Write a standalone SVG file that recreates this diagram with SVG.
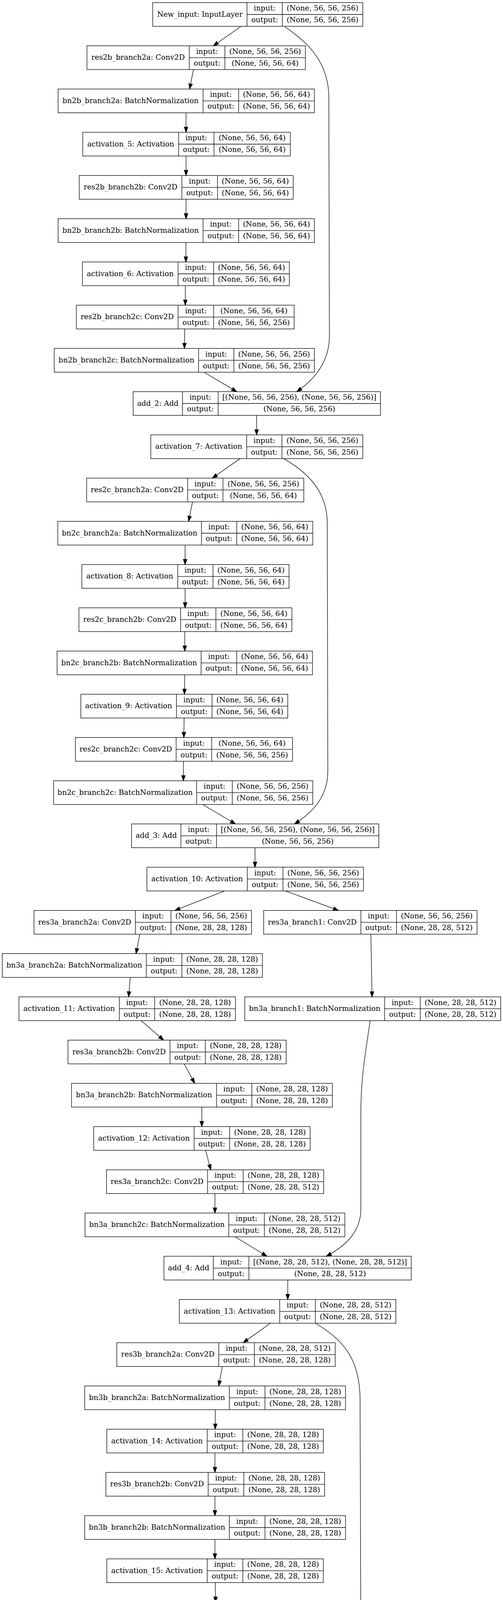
<svg xmlns="http://www.w3.org/2000/svg" width="1288" height="6713" viewBox="0 0 1288 6713">
<defs>
<marker id="ah" markerUnits="userSpaceOnUse" markerWidth="16" markerHeight="12" viewBox="-1 -1 16 12" refX="13.3" refY="4.67" orient="auto">
<path d="M0,0L13.3,4.67L0,9.33z" fill="#000" stroke="#000" stroke-width="1.33"/>
</marker>
</defs>
<style>
.n rect{fill:none;stroke:#000;stroke-width:1.33}
.n path{fill:none;stroke:#000;stroke-width:1.33}
.n text{font-family:"DejaVu Serif","Liberation Serif",serif;font-size:18.67px;text-anchor:middle;fill:#000}
#edges path{fill:none;stroke:#000;stroke-width:1.33;marker-end:url(#ah)}
</style>
<rect x="0" y="0" width="1288" height="6713" fill="#fff"/>
<g id="edges">
<path d="M616.1,68.2L546.2,117.3"/>
<path d="M495.3,178.2L485.5,227.9"/>
<path d="M476.4,288.7V338.6"/>
<path d="M476.4,399.4V449.3"/>
<path d="M476.4,510.1V559.9"/>
<path d="M476,620.7V670.6"/>
<path d="M474.5,731.4V781.3"/>
<path d="M473,842.1L472.3,892"/>
<path d="M522.4,952.8L606.2,1002.6"/>
<path d="M729.4,68.2C790,110 842,160 842,250L843.5,860C843.5,930 800,975 759.8,1002.6"/>
<path d="M657.1,1063.4V1113.3"/>
<path d="M614.4,1174.1L543.8,1224"/>
<path d="M726.1,1174.1C790,1210 838,1260 838,1340L839.5,1975C839.5,2040 800,2080 754.1,2109.3"/>
<path d="M492.9,1284.8L483,1334.6"/>
<path d="M474,1395.4V1445.3"/>
<path d="M474,1506.1V1556"/>
<path d="M473.1,1616.8V1666.7"/>
<path d="M473,1727.5L472.3,1777.3"/>
<path d="M471.5,1838.1L470.7,1888"/>
<path d="M469.7,1948.8V1998.7"/>
<path d="M519.1,2059.5L602.9,2109.3"/>
<path d="M653,2170.1V2220"/>
<path d="M575,2280.8L447.7,2330.7"/>
<path d="M731.1,2280.8L866.6,2330.7"/>
<path d="M358.1,2391.5L348.3,2441.3"/>
<path d="M949.6,2391.5L952.8,2552"/>
<path d="M333.5,2502.1L329.4,2552"/>
<path d="M361.4,2612.8L418.9,2662.7"/>
<path d="M947.9,2612.8C935,2700 924,2760 924,2850L924,3095C924,3160 875,3195 835.4,3216"/>
<path d="M471.5,2723.5L498.6,2773.4"/>
<path d="M516.7,2834.2V2884"/>
<path d="M526.5,2944.8L539.7,2994.7"/>
<path d="M550.4,3055.5V3105.4"/>
<path d="M602.1,3166.2L683.4,3216"/>
<path d="M736.8,3276.8V3326.7"/>
<path d="M692.5,3387.5L622.6,3437.4"/>
<path d="M807.5,3387.5C870,3425 921,3470 922,3580L924,4190C924,4255 868,4298 835.4,4322.7"/>
<path d="M569.3,3498.2L560.2,3548"/>
<path d="M551.2,3608.8V3658.7"/>
<path d="M550.4,3719.5V3769.4"/>
<path d="M550.4,3830.2V3880.1"/>
<path d="M550.4,3940.9V3990.7"/>
<path d="M551.2,4051.5L552,4101.4"/>
<path d="M552,4162.2V4212.1"/>
<path d="M603.8,4272.9L685.9,4322.7"/>
<path d="M737.6,4383.5V4433.4"/>
<path d="M694.1,4494.2L624.3,4544.1"/>
<path d="M807.5,4494.2C870,4531.7 921,4576.7 922,4686.7L924,5296.7C924,5361.7 868,5404.7 835.4,5429.4"/>
<path d="M571.7,4604.9L561.9,4654.7"/>
<path d="M552,4715.5V4765.4"/>
<path d="M552,4826.2V4876.1"/>
<path d="M552,4936.9V4986.8"/>
<path d="M552.8,5047.6L553.6,5097.4"/>
<path d="M553.6,5158.2V5208.1"/>
<path d="M553.6,5268.9V5318.8"/>
<path d="M604.6,5379.6L686.7,5429.4"/>
<path d="M737.6,5490.2V5540.1"/>
<path d="M694.1,5600.9L624.3,5650.8"/>
<path d="M807.5,5600.9C870,5638.4 921,5683.4 923,5793.4L925,6403.4C925,6468.4 870,6511.4 837.9,6536.1"/>
<path d="M572.5,5711.6L561.9,5761.4"/>
<path d="M552,5822.2V5872.1"/>
<path d="M552,5932.9V5982.8"/>
<path d="M552,6043.6V6093.5"/>
<path d="M552,6154.3L552.8,6204.1"/>
<path d="M553.6,6264.9V6314.8"/>
<path d="M553.6,6375.6V6425.5"/>
<path d="M604.6,6486.3L688.4,6536.1"/>
<path d="M738.5,6596.9V6646.8"/>
</g>
<g id="n_New_input" class="n" transform="translate(0,6.6)"><rect x="391" y="0" width="538" height="60.8"/><path d="M632.5,0V60.8M722.9,0V60.8M632.5,30.4H929"/><text x="511.75" y="36">New_input: InputLayer</text><text x="677.7" y="20.6">input:</text><text x="677.7" y="50.6">output:</text><text x="825.95" y="20.6">(None, 56, 56, 256)</text><text x="825.95" y="50.6">(None, 56, 56, 256)</text></g>
<g id="n_res2b_branch2a" class="n" transform="translate(0,117.3)"><rect x="222.6" y="0" width="559.4" height="60.8"/><path d="M484.6,0V60.8M575.8,0V60.8M484.6,30.4H782"/><text x="353.6" y="36">res2b_branch2a: Conv2D</text><text x="530.2" y="20.6">input:</text><text x="530.2" y="50.6">output:</text><text x="678.9" y="20.6">(None, 56, 56, 256)</text><text x="678.9" y="50.6">(None, 56, 56, 64)</text></g>
<g id="n_bn2b_branch2a" class="n" transform="translate(0,227.9)"><rect x="148.7" y="0" width="656.3" height="60.8"/><path d="M520,0V60.8M611.1,0V60.8M520,30.4H805"/><text x="334.35" y="36">bn2b_branch2a: BatchNormalization</text><text x="565.55" y="20.6">input:</text><text x="565.55" y="50.6">output:</text><text x="708.05" y="20.6">(None, 56, 56, 64)</text><text x="708.05" y="50.6">(None, 56, 56, 64)</text></g>
<g id="n_activation_5" class="n" transform="translate(0,338.6)"><rect x="211.9" y="0" width="531.5" height="60.8"/><path d="M457.5,0V60.8M547.9,0V60.8M457.5,30.4H743.4"/><text x="334.7" y="36">activation_5: Activation</text><text x="502.7" y="20.6">input:</text><text x="502.7" y="50.6">output:</text><text x="645.65" y="20.6">(None, 56, 56, 64)</text><text x="645.65" y="50.6">(None, 56, 56, 64)</text></g>
<g id="n_res2b_branch2b" class="n" transform="translate(0,449.3)"><rect x="202.9" y="0" width="547.9" height="60.8"/><path d="M465.7,0V60.8M556.9,0V60.8M465.7,30.4H750.8"/><text x="334.3" y="36">res2b_branch2b: Conv2D</text><text x="511.3" y="20.6">input:</text><text x="511.3" y="50.6">output:</text><text x="653.85" y="20.6">(None, 56, 56, 64)</text><text x="653.85" y="50.6">(None, 56, 56, 64)</text></g>
<g id="n_bn2b_branch2b" class="n" transform="translate(0,559.9)"><rect x="148.7" y="0" width="656.3" height="60.8"/><path d="M520,0V60.8M611.1,0V60.8M520,30.4H805"/><text x="334.35" y="36">bn2b_branch2b: BatchNormalization</text><text x="565.55" y="20.6">input:</text><text x="565.55" y="50.6">output:</text><text x="708.05" y="20.6">(None, 56, 56, 64)</text><text x="708.05" y="50.6">(None, 56, 56, 64)</text></g>
<g id="n_activation_6" class="n" transform="translate(0,670.6)"><rect x="211.1" y="0" width="529.8" height="60.8"/><path d="M455.9,0V60.8M547.1,0V60.8M455.9,30.4H740.9"/><text x="333.5" y="36">activation_6: Activation</text><text x="501.5" y="20.6">input:</text><text x="501.5" y="50.6">output:</text><text x="644" y="20.6">(None, 56, 56, 64)</text><text x="644" y="50.6">(None, 56, 56, 64)</text></g>
<g id="n_res2b_branch2c" class="n" transform="translate(0,781.3)"><rect x="195.5" y="0" width="557.8" height="60.8"/><path d="M455.9,0V60.8M547.1,0V60.8M455.9,30.4H753.3"/><text x="325.7" y="36">res2b_branch2c: Conv2D</text><text x="501.5" y="20.6">input:</text><text x="501.5" y="50.6">output:</text><text x="650.2" y="20.6">(None, 56, 56, 64)</text><text x="650.2" y="50.6">(None, 56, 56, 256)</text></g>
<g id="n_bn2b_branch2c" class="n" transform="translate(0,892)"><rect x="138.8" y="0" width="666.2" height="60.8"/><path d="M508.5,0V60.8M598.8,0V60.8M508.5,30.4H805"/><text x="323.65" y="36">bn2b_branch2c: BatchNormalization</text><text x="553.65" y="20.6">input:</text><text x="553.65" y="50.6">output:</text><text x="701.9" y="20.6">(None, 56, 56, 256)</text><text x="701.9" y="50.6">(None, 56, 56, 256)</text></g>
<g id="n_add_2" class="n" transform="translate(0,1002.6)"><rect x="340.9" y="0" width="633.3" height="60.8"/><path d="M467.4,0V60.8M558.6,0V60.8M467.4,30.4H974.2"/><text x="404.15" y="36">add_2: Add</text><text x="513" y="20.6">input:</text><text x="513" y="50.6">output:</text><text x="766.4" y="20.6">[(None, 56, 56, 256), (None, 56, 56, 256)]</text><text x="766.4" y="50.6">(None, 56, 56, 256)</text></g>
<g id="n_activation_7" class="n" transform="translate(0,1113.3)"><rect x="386.1" y="0" width="542.9" height="60.8"/><path d="M631.7,0V60.8M722,0V60.8M631.7,30.4H929"/><text x="508.9" y="36">activation_7: Activation</text><text x="676.85" y="20.6">input:</text><text x="676.85" y="50.6">output:</text><text x="825.5" y="20.6">(None, 56, 56, 256)</text><text x="825.5" y="50.6">(None, 56, 56, 256)</text></g>
<g id="n_res2c_branch2a" class="n" transform="translate(0,1224)"><rect x="221.8" y="0" width="556.1" height="60.8"/><path d="M480.5,0V60.8M570.9,0V60.8M480.5,30.4H777.9"/><text x="351.15" y="36">res2c_branch2a: Conv2D</text><text x="525.7" y="20.6">input:</text><text x="525.7" y="50.6">output:</text><text x="674.4" y="20.6">(None, 56, 56, 256)</text><text x="674.4" y="50.6">(None, 56, 56, 64)</text></g>
<g id="n_bn2c_branch2a" class="n" transform="translate(0,1334.6)"><rect x="147.9" y="0" width="653" height="60.8"/><path d="M515.9,0V60.8M606.2,0V60.8M515.9,30.4H800.9"/><text x="331.9" y="36">bn2c_branch2a: BatchNormalization</text><text x="561.05" y="20.6">input:</text><text x="561.05" y="50.6">output:</text><text x="703.55" y="20.6">(None, 56, 56, 64)</text><text x="703.55" y="50.6">(None, 56, 56, 64)</text></g>
<g id="n_activation_8" class="n" transform="translate(0,1445.3)"><rect x="209.5" y="0" width="530.6" height="60.8"/><path d="M455.1,0V60.8M545.4,0V60.8M455.1,30.4H740.1"/><text x="332.3" y="36">activation_8: Activation</text><text x="500.25" y="20.6">input:</text><text x="500.25" y="50.6">output:</text><text x="642.75" y="20.6">(None, 56, 56, 64)</text><text x="642.75" y="50.6">(None, 56, 56, 64)</text></g>
<g id="n_res2c_branch2b" class="n" transform="translate(0,1556)"><rect x="202.1" y="0" width="545.4" height="60.8"/><path d="M462.5,0V60.8M552.8,0V60.8M462.5,30.4H747.5"/><text x="332.3" y="36">res2c_branch2b: Conv2D</text><text x="507.65" y="20.6">input:</text><text x="507.65" y="50.6">output:</text><text x="650.15" y="20.6">(None, 56, 56, 64)</text><text x="650.15" y="50.6">(None, 56, 56, 64)</text></g>
<g id="n_bn2c_branch2b" class="n" transform="translate(0,1666.7)"><rect x="146.2" y="0" width="653.9" height="60.8"/><path d="M515,0V60.8M606.2,0V60.8M515,30.4H800.1"/><text x="330.6" y="36">bn2c_branch2b: BatchNormalization</text><text x="560.6" y="20.6">input:</text><text x="560.6" y="50.6">output:</text><text x="703.15" y="20.6">(None, 56, 56, 64)</text><text x="703.15" y="50.6">(None, 56, 56, 64)</text></g>
<g id="n_activation_9" class="n" transform="translate(0,1777.3)"><rect x="207" y="0" width="529.8" height="60.8"/><path d="M451.8,0V60.8M543,0V60.8M451.8,30.4H736.8"/><text x="329.4" y="36">activation_9: Activation</text><text x="497.4" y="20.6">input:</text><text x="497.4" y="50.6">output:</text><text x="639.9" y="20.6">(None, 56, 56, 64)</text><text x="639.9" y="50.6">(None, 56, 56, 64)</text></g>
<g id="n_res2c_branch2c" class="n" transform="translate(0,1888)"><rect x="193" y="0" width="556.1" height="60.8"/><path d="M451,0V60.8M542.1,0V60.8M451,30.4H749.1"/><text x="322" y="36">res2c_branch2c: Conv2D</text><text x="496.55" y="20.6">input:</text><text x="496.55" y="50.6">output:</text><text x="645.6" y="20.6">(None, 56, 56, 64)</text><text x="645.6" y="50.6">(None, 56, 56, 256)</text></g>
<g id="n_bn2c_branch2c" class="n" transform="translate(0,1998.7)"><rect x="137.2" y="0" width="663.7" height="60.8"/><path d="M503.5,0V60.8M594.7,0V60.8M503.5,30.4H800.9"/><text x="320.35" y="36">bn2c_branch2c: BatchNormalization</text><text x="549.1" y="20.6">input:</text><text x="549.1" y="50.6">output:</text><text x="697.8" y="20.6">(None, 56, 56, 256)</text><text x="697.8" y="50.6">(None, 56, 56, 256)</text></g>
<g id="n_add_3" class="n" transform="translate(0,2109.3)"><rect x="336.8" y="0" width="633.3" height="60.8"/><path d="M463.3,0V60.8M554.5,0V60.8M463.3,30.4H970.1"/><text x="400.05" y="36">add_3: Add</text><text x="508.9" y="20.6">input:</text><text x="508.9" y="50.6">output:</text><text x="762.3" y="20.6">[(None, 56, 56, 256), (None, 56, 56, 256)]</text><text x="762.3" y="50.6">(None, 56, 56, 256)</text></g>
<g id="n_activation_10" class="n" transform="translate(0,2220)"><rect x="376.2" y="0" width="554.5" height="60.8"/><path d="M633.3,0V60.8M724.5,0V60.8M633.3,30.4H930.7"/><text x="504.75" y="36">activation_10: Activation</text><text x="678.9" y="20.6">input:</text><text x="678.9" y="50.6">output:</text><text x="827.6" y="20.6">(None, 56, 56, 256)</text><text x="827.6" y="50.6">(None, 56, 56, 256)</text></g>
<g id="n_res3a_branch2a" class="n" transform="translate(0,2330.7)"><rect x="87.1" y="0" width="556.9" height="60.8"/><path d="M346.6,0V60.8M437.8,0V60.8M346.6,30.4H644"/><text x="216.85" y="36">res3a_branch2a: Conv2D</text><text x="392.2" y="20.6">input:</text><text x="392.2" y="50.6">output:</text><text x="540.9" y="20.6">(None, 56, 56, 256)</text><text x="540.9" y="50.6">(None, 28, 28, 128)</text></g>
<g id="n_res3a_branch1" class="n" transform="translate(0,2330.7)"><rect x="675.2" y="0" width="546.3" height="60.8"/><path d="M924.1,0V60.8M1015.3,0V60.8M924.1,30.4H1221.5"/><text x="799.65" y="36">res3a_branch1: Conv2D</text><text x="969.7" y="20.6">input:</text><text x="969.7" y="50.6">output:</text><text x="1118.4" y="20.6">(None, 56, 56, 256)</text><text x="1118.4" y="50.6">(None, 28, 28, 512)</text></g>
<g id="n_bn3a_branch2a" class="n" transform="translate(0,2441.3)"><rect x="5.8" y="0" width="666.1" height="60.8"/><path d="M374.6,0V60.8M465.7,0V60.8M374.6,30.4H671.9"/><text x="190.2" y="36">bn3a_branch2a: BatchNormalization</text><text x="420.15" y="20.6">input:</text><text x="420.15" y="50.6">output:</text><text x="568.8" y="20.6">(None, 28, 28, 128)</text><text x="568.8" y="50.6">(None, 28, 28, 128)</text></g>
<g id="n_activation_11" class="n" transform="translate(0,2552)"><rect x="48.5" y="0" width="554.4" height="60.8"/><path d="M305.6,0V60.8M395.9,0V60.8M305.6,30.4H602.9"/><text x="177.05" y="36">activation_11: Activation</text><text x="350.75" y="20.6">input:</text><text x="350.75" y="50.6">output:</text><text x="499.4" y="20.6">(None, 28, 28, 128)</text><text x="499.4" y="50.6">(None, 28, 28, 128)</text></g>
<g id="n_bn3a_branch1" class="n" transform="translate(0,2552)"><rect x="626.8" y="0" width="655.4" height="60.8"/><path d="M984.9,0V60.8M1076.1,0V60.8M984.9,30.4H1282.2"/><text x="805.85" y="36">bn3a_branch1: BatchNormalization</text><text x="1030.5" y="20.6">input:</text><text x="1030.5" y="50.6">output:</text><text x="1179.15" y="20.6">(None, 28, 28, 512)</text><text x="1179.15" y="50.6">(None, 28, 28, 512)</text></g>
<g id="n_res3a_branch2b" class="n" transform="translate(0,2662.7)"><rect x="174.1" y="0" width="558.6" height="60.8"/><path d="M435.4,0V60.8M525.7,0V60.8M435.4,30.4H732.7"/><text x="304.75" y="36">res3a_branch2b: Conv2D</text><text x="480.55" y="20.6">input:</text><text x="480.55" y="50.6">output:</text><text x="629.2" y="20.6">(None, 28, 28, 128)</text><text x="629.2" y="50.6">(None, 28, 28, 128)</text></g>
<g id="n_bn3a_branch2b" class="n" transform="translate(0,2773.4)"><rect x="183.2" y="0" width="667.8" height="60.8"/><path d="M554.5,0V60.8M644.8,0V60.8M554.5,30.4H851"/><text x="368.85" y="36">bn3a_branch2b: BatchNormalization</text><text x="599.65" y="20.6">input:</text><text x="599.65" y="50.6">output:</text><text x="747.9" y="20.6">(None, 28, 28, 128)</text><text x="747.9" y="50.6">(None, 28, 28, 128)</text></g>
<g id="n_activation_12" class="n" transform="translate(0,2884)"><rect x="239.9" y="0" width="554.4" height="60.8"/><path d="M497,0V60.8M588.1,0V60.8M497,30.4H794.3"/><text x="368.45" y="36">activation_12: Activation</text><text x="542.55" y="20.6">input:</text><text x="542.55" y="50.6">output:</text><text x="691.2" y="20.6">(None, 28, 28, 128)</text><text x="691.2" y="50.6">(None, 28, 28, 128)</text></g>
<g id="n_res3a_branch2c" class="n" transform="translate(0,2994.7)"><rect x="272.7" y="0" width="556.1" height="60.8"/><path d="M531.5,0V60.8M622.6,0V60.8M531.5,30.4H828.8"/><text x="402.1" y="36">res3a_branch2c: Conv2D</text><text x="577.05" y="20.6">input:</text><text x="577.05" y="50.6">output:</text><text x="725.7" y="20.6">(None, 28, 28, 128)</text><text x="725.7" y="50.6">(None, 28, 28, 512)</text></g>
<g id="n_bn3a_branch2c" class="n" transform="translate(0,3105.4)"><rect x="217.7" y="0" width="665.3" height="60.8"/><path d="M585.7,0V60.8M676.9,0V60.8M585.7,30.4H883"/><text x="401.7" y="36">bn3a_branch2c: BatchNormalization</text><text x="631.3" y="20.6">input:</text><text x="631.3" y="50.6">output:</text><text x="779.95" y="20.6">(None, 28, 28, 512)</text><text x="779.95" y="50.6">(None, 28, 28, 512)</text></g>
<g id="n_add_4" class="n" transform="translate(0,3216)"><rect x="419.7" y="0" width="633.4" height="60.8"/><path d="M546.2,0V60.8M637.4,0V60.8M546.2,30.4H1053.1"/><text x="482.95" y="36">add_4: Add</text><text x="591.8" y="20.6">input:</text><text x="591.8" y="50.6">output:</text><text x="845.25" y="20.6">[(None, 28, 28, 512), (None, 28, 28, 512)]</text><text x="845.25" y="50.6">(None, 28, 28, 512)</text></g>
<g id="n_activation_13" class="n" transform="translate(0,3326.7)"><rect x="459.2" y="0" width="554.4" height="60.8"/><path d="M716.3,0V60.8M807.5,0V60.8M716.3,30.4H1013.6"/><text x="587.75" y="36">activation_13: Activation</text><text x="761.9" y="20.6">input:</text><text x="761.9" y="50.6">output:</text><text x="910.55" y="20.6">(None, 28, 28, 512)</text><text x="910.55" y="50.6">(None, 28, 28, 512)</text></g>
<g id="n_res3b_branch2a" class="n" transform="translate(0,3437.4)"><rect x="299" y="0" width="559.4" height="60.8"/><path d="M560.2,0V60.8M651.4,0V60.8M560.2,30.4H858.4"/><text x="429.6" y="36">res3b_branch2a: Conv2D</text><text x="605.8" y="20.6">input:</text><text x="605.8" y="50.6">output:</text><text x="754.9" y="20.6">(None, 28, 28, 512)</text><text x="754.9" y="50.6">(None, 28, 28, 128)</text></g>
<g id="n_bn3b_branch2a" class="n" transform="translate(0,3548)"><rect x="216.9" y="0" width="667.8" height="60.8"/><path d="M587.3,0V60.8M678.5,0V60.8M587.3,30.4H884.7"/><text x="402.1" y="36">bn3b_branch2a: BatchNormalization</text><text x="632.9" y="20.6">input:</text><text x="632.9" y="50.6">output:</text><text x="781.6" y="20.6">(None, 28, 28, 128)</text><text x="781.6" y="50.6">(None, 28, 28, 128)</text></g>
<g id="n_activation_14" class="n" transform="translate(0,3658.7)"><rect x="273.5" y="0" width="554.5" height="60.8"/><path d="M530.6,0V60.8M621.8,0V60.8M530.6,30.4H828"/><text x="402.05" y="36">activation_14: Activation</text><text x="576.2" y="20.6">input:</text><text x="576.2" y="50.6">output:</text><text x="724.9" y="20.6">(None, 28, 28, 128)</text><text x="724.9" y="50.6">(None, 28, 28, 128)</text></g>
<g id="n_res3b_branch2b" class="n" transform="translate(0,3769.4)"><rect x="271.1" y="0" width="560.2" height="60.8"/><path d="M533.1,0V60.8M624.3,0V60.8M533.1,30.4H831.3"/><text x="402.1" y="36">res3b_branch2b: Conv2D</text><text x="578.7" y="20.6">input:</text><text x="578.7" y="50.6">output:</text><text x="727.8" y="20.6">(None, 28, 28, 128)</text><text x="727.8" y="50.6">(None, 28, 28, 128)</text></g>
<g id="n_bn3b_branch2b" class="n" transform="translate(0,3880.1)"><rect x="216.9" y="0" width="667.8" height="60.8"/><path d="M587.3,0V60.8M678.5,0V60.8M587.3,30.4H884.7"/><text x="402.1" y="36">bn3b_branch2b: BatchNormalization</text><text x="632.9" y="20.6">input:</text><text x="632.9" y="50.6">output:</text><text x="781.6" y="20.6">(None, 28, 28, 128)</text><text x="781.6" y="50.6">(None, 28, 28, 128)</text></g>
<g id="n_activation_15" class="n" transform="translate(0,3990.7)"><rect x="273.5" y="0" width="554.5" height="60.8"/><path d="M530.6,0V60.8M621.8,0V60.8M530.6,30.4H828"/><text x="402.05" y="36">activation_15: Activation</text><text x="576.2" y="20.6">input:</text><text x="576.2" y="50.6">output:</text><text x="724.9" y="20.6">(None, 28, 28, 128)</text><text x="724.9" y="50.6">(None, 28, 28, 128)</text></g>
<g id="n_res3b_branch2c" class="n" transform="translate(0,4101.4)"><rect x="273.5" y="0" width="557" height="60.8"/><path d="M533.1,0V60.8M624.3,0V60.8M533.1,30.4H830.5"/><text x="403.3" y="36">res3b_branch2c: Conv2D</text><text x="578.7" y="20.6">input:</text><text x="578.7" y="50.6">output:</text><text x="727.4" y="20.6">(None, 28, 28, 128)</text><text x="727.4" y="50.6">(None, 28, 28, 512)</text></g>
<g id="n_bn3b_branch2c" class="n" transform="translate(0,4212.1)"><rect x="218.5" y="0" width="667" height="60.8"/><path d="M588.1,0V60.8M678.5,0V60.8M588.1,30.4H885.5"/><text x="403.3" y="36">bn3b_branch2c: BatchNormalization</text><text x="633.3" y="20.6">input:</text><text x="633.3" y="50.6">output:</text><text x="782" y="20.6">(None, 28, 28, 512)</text><text x="782" y="50.6">(None, 28, 28, 512)</text></g>
<g id="n_add_5" class="n" transform="translate(0,4322.7)"><rect x="420.6" y="0" width="633.3" height="60.8"/><path d="M547.1,0V60.8M638.3,0V60.8M547.1,30.4H1053.9"/><text x="483.85" y="36">add_5: Add</text><text x="592.7" y="20.6">input:</text><text x="592.7" y="50.6">output:</text><text x="846.1" y="20.6">[(None, 28, 28, 512), (None, 28, 28, 512)]</text><text x="846.1" y="50.6">(None, 28, 28, 512)</text></g>
<g id="n_activation_16" class="n" transform="translate(0,4433.4)"><rect x="460" y="0" width="555.3" height="60.8"/><path d="M717.1,0V60.8M808.3,0V60.8M717.1,30.4H1015.3"/><text x="588.55" y="36">activation_16: Activation</text><text x="762.7" y="20.6">input:</text><text x="762.7" y="50.6">output:</text><text x="911.8" y="20.6">(None, 28, 28, 512)</text><text x="911.8" y="50.6">(None, 28, 28, 512)</text></g>
<g id="n_res3c_branch2a" class="n" transform="translate(0,4544.1)"><rect x="301.5" y="0" width="556.9" height="60.8"/><path d="M561,0V60.8M651.4,0V60.8M561,30.4H858.4"/><text x="431.25" y="36">res3c_branch2a: Conv2D</text><text x="606.2" y="20.6">input:</text><text x="606.2" y="50.6">output:</text><text x="754.9" y="20.6">(None, 28, 28, 512)</text><text x="754.9" y="50.6">(None, 28, 28, 128)</text></g>
<g id="n_bn3c_branch2a" class="n" transform="translate(0,4654.7)"><rect x="219.3" y="0" width="665.4" height="60.8"/><path d="M587.3,0V60.8M678.5,0V60.8M587.3,30.4H884.7"/><text x="403.3" y="36">bn3c_branch2a: BatchNormalization</text><text x="632.9" y="20.6">input:</text><text x="632.9" y="50.6">output:</text><text x="781.6" y="20.6">(None, 28, 28, 128)</text><text x="781.6" y="50.6">(None, 28, 28, 128)</text></g>
<g id="n_activation_17" class="n" transform="translate(0,4765.4)"><rect x="275.2" y="0" width="554.4" height="60.8"/><path d="M532.3,0V60.8M623.5,0V60.8M532.3,30.4H829.6"/><text x="403.75" y="36">activation_17: Activation</text><text x="577.9" y="20.6">input:</text><text x="577.9" y="50.6">output:</text><text x="726.55" y="20.6">(None, 28, 28, 128)</text><text x="726.55" y="50.6">(None, 28, 28, 128)</text></g>
<g id="n_res3c_branch2b" class="n" transform="translate(0,4876.1)"><rect x="272.7" y="0" width="558.6" height="60.8"/><path d="M533.1,0V60.8M624.3,0V60.8M533.1,30.4H831.3"/><text x="402.9" y="36">res3c_branch2b: Conv2D</text><text x="578.7" y="20.6">input:</text><text x="578.7" y="50.6">output:</text><text x="727.8" y="20.6">(None, 28, 28, 128)</text><text x="727.8" y="50.6">(None, 28, 28, 128)</text></g>
<g id="n_bn3c_branch2b" class="n" transform="translate(0,4986.8)"><rect x="218.5" y="0" width="667" height="60.8"/><path d="M588.1,0V60.8M678.5,0V60.8M588.1,30.4H885.5"/><text x="403.3" y="36">bn3c_branch2b: BatchNormalization</text><text x="633.3" y="20.6">input:</text><text x="633.3" y="50.6">output:</text><text x="782" y="20.6">(None, 28, 28, 128)</text><text x="782" y="50.6">(None, 28, 28, 128)</text></g>
<g id="n_activation_18" class="n" transform="translate(0,5097.4)"><rect x="276" y="0" width="555.3" height="60.8"/><path d="M533.9,0V60.8M624.3,0V60.8M533.9,30.4H831.3"/><text x="404.95" y="36">activation_18: Activation</text><text x="579.1" y="20.6">input:</text><text x="579.1" y="50.6">output:</text><text x="727.8" y="20.6">(None, 28, 28, 128)</text><text x="727.8" y="50.6">(None, 28, 28, 128)</text></g>
<g id="n_res3c_branch2c" class="n" transform="translate(0,5208.1)"><rect x="275.2" y="0" width="556.1" height="60.8"/><path d="M533.9,0V60.8M625.1,0V60.8M533.9,30.4H831.3"/><text x="404.55" y="36">res3c_branch2c: Conv2D</text><text x="579.5" y="20.6">input:</text><text x="579.5" y="50.6">output:</text><text x="728.2" y="20.6">(None, 28, 28, 128)</text><text x="728.2" y="50.6">(None, 28, 28, 512)</text></g>
<g id="n_bn3c_branch2c" class="n" transform="translate(0,5318.8)"><rect x="221" y="0" width="664.5" height="60.8"/><path d="M588.1,0V60.8M678.5,0V60.8M588.1,30.4H885.5"/><text x="404.55" y="36">bn3c_branch2c: BatchNormalization</text><text x="633.3" y="20.6">input:</text><text x="633.3" y="50.6">output:</text><text x="782" y="20.6">(None, 28, 28, 512)</text><text x="782" y="50.6">(None, 28, 28, 512)</text></g>
<g id="n_add_6" class="n" transform="translate(0,5429.4)"><rect x="420.6" y="0" width="633.3" height="60.8"/><path d="M547.1,0V60.8M638.3,0V60.8M547.1,30.4H1053.9"/><text x="483.85" y="36">add_6: Add</text><text x="592.7" y="20.6">input:</text><text x="592.7" y="50.6">output:</text><text x="846.1" y="20.6">[(None, 28, 28, 512), (None, 28, 28, 512)]</text><text x="846.1" y="50.6">(None, 28, 28, 512)</text></g>
<g id="n_activation_19" class="n" transform="translate(0,5540.1)"><rect x="460" y="0" width="555.3" height="60.8"/><path d="M717.1,0V60.8M808.3,0V60.8M717.1,30.4H1015.3"/><text x="588.55" y="36">activation_19: Activation</text><text x="762.7" y="20.6">input:</text><text x="762.7" y="50.6">output:</text><text x="911.8" y="20.6">(None, 28, 28, 512)</text><text x="911.8" y="50.6">(None, 28, 28, 512)</text></g>
<g id="n_res3d_branch2a" class="n" transform="translate(0,5650.8)"><rect x="300.6" y="0" width="558.6" height="60.8"/><path d="M561.9,0V60.8M652.2,0V60.8M561.9,30.4H859.2"/><text x="431.25" y="36">res3d_branch2a: Conv2D</text><text x="607.05" y="20.6">input:</text><text x="607.05" y="50.6">output:</text><text x="755.7" y="20.6">(None, 28, 28, 512)</text><text x="755.7" y="50.6">(None, 28, 28, 128)</text></g>
<g id="n_bn3d_branch2a" class="n" transform="translate(0,5761.4)"><rect x="217.7" y="0" width="668.6" height="60.8"/><path d="M588.1,0V60.8M679.3,0V60.8M588.1,30.4H886.3"/><text x="402.9" y="36">bn3d_branch2a: BatchNormalization</text><text x="633.7" y="20.6">input:</text><text x="633.7" y="50.6">output:</text><text x="782.8" y="20.6">(None, 28, 28, 128)</text><text x="782.8" y="50.6">(None, 28, 28, 128)</text></g>
<g id="n_activation_20" class="n" transform="translate(0,5872.1)"><rect x="275.2" y="0" width="554.4" height="60.8"/><path d="M532.3,0V60.8M623.5,0V60.8M532.3,30.4H829.6"/><text x="403.75" y="36">activation_20: Activation</text><text x="577.9" y="20.6">input:</text><text x="577.9" y="50.6">output:</text><text x="726.55" y="20.6">(None, 28, 28, 128)</text><text x="726.55" y="50.6">(None, 28, 28, 128)</text></g>
<g id="n_res3d_branch2b" class="n" transform="translate(0,5982.8)"><rect x="271.9" y="0" width="560.2" height="60.8"/><path d="M534.8,0V60.8M625.1,0V60.8M534.8,30.4H832.1"/><text x="403.35" y="36">res3d_branch2b: Conv2D</text><text x="579.95" y="20.6">input:</text><text x="579.95" y="50.6">output:</text><text x="728.6" y="20.6">(None, 28, 28, 128)</text><text x="728.6" y="50.6">(None, 28, 28, 128)</text></g>
<g id="n_bn3d_branch2b" class="n" transform="translate(0,6093.5)"><rect x="217.7" y="0" width="668.6" height="60.8"/><path d="M588.1,0V60.8M679.3,0V60.8M588.1,30.4H886.3"/><text x="402.9" y="36">bn3d_branch2b: BatchNormalization</text><text x="633.7" y="20.6">input:</text><text x="633.7" y="50.6">output:</text><text x="782.8" y="20.6">(None, 28, 28, 128)</text><text x="782.8" y="50.6">(None, 28, 28, 128)</text></g>
<g id="n_activation_21" class="n" transform="translate(0,6204.1)"><rect x="276" y="0" width="555.3" height="60.8"/><path d="M533.1,0V60.8M624.3,0V60.8M533.1,30.4H831.3"/><text x="404.55" y="36">activation_21: Activation</text><text x="578.7" y="20.6">input:</text><text x="578.7" y="50.6">output:</text><text x="727.8" y="20.6">(None, 28, 28, 128)</text><text x="727.8" y="50.6">(None, 28, 28, 128)</text></g>
<g id="n_res3d_branch2c" class="n" transform="translate(0,6314.8)"><rect x="275.2" y="0" width="556.9" height="60.8"/><path d="M534.8,0V60.8M625.1,0V60.8M534.8,30.4H832.1"/><text x="405" y="36">res3d_branch2c: Conv2D</text><text x="579.95" y="20.6">input:</text><text x="579.95" y="50.6">output:</text><text x="728.6" y="20.6">(None, 28, 28, 128)</text><text x="728.6" y="50.6">(None, 28, 28, 512)</text></g>
<g id="n_bn3d_branch2c" class="n" transform="translate(0,6425.5)"><rect x="220.1" y="0" width="667" height="60.8"/><path d="M589,0V60.8M680.1,0V60.8M589,30.4H887.1"/><text x="404.55" y="36">bn3d_branch2c: BatchNormalization</text><text x="634.55" y="20.6">input:</text><text x="634.55" y="50.6">output:</text><text x="783.6" y="20.6">(None, 28, 28, 512)</text><text x="783.6" y="50.6">(None, 28, 28, 512)</text></g>
<g id="n_add_7" class="n" transform="translate(0,6536.1)"><rect x="422.2" y="0" width="633.3" height="60.8"/><path d="M548.7,0V60.8M639.1,0V60.8M548.7,30.4H1055.5"/><text x="485.45" y="36">add_7: Add</text><text x="593.9" y="20.6">input:</text><text x="593.9" y="50.6">output:</text><text x="847.3" y="20.6">[(None, 28, 28, 512), (None, 28, 28, 512)]</text><text x="847.3" y="50.6">(None, 28, 28, 512)</text></g>
<g id="n_activation_22" class="n" transform="translate(0,6646.8)"><rect x="460.8" y="0" width="555.3" height="60.8"/><path d="M718.7,0V60.8M809.1,0V60.8M718.7,30.4H1016.1"/><text x="589.75" y="36">activation_22: Activation</text><text x="763.9" y="20.6">input:</text><text x="763.9" y="50.6">output:</text><text x="912.6" y="20.6">(None, 28, 28, 512)</text><text x="912.6" y="50.6">(None, 28, 28, 512)</text></g>
</svg>
